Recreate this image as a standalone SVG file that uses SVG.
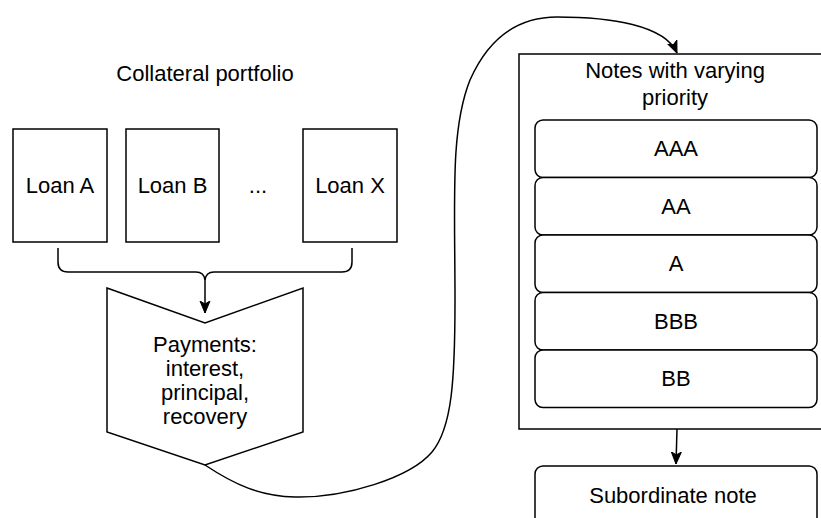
<svg xmlns="http://www.w3.org/2000/svg" width="821" height="518" viewBox="0 0 821 518">
<style>
  .box{fill:#fff;stroke:#000;stroke-width:1.5}
  .ln{fill:none;stroke:#000;stroke-width:1.5}
  text{font-family:"Liberation Sans",Arial,sans-serif;font-size:22px;fill:#000;text-anchor:middle}
</style>
<defs>
  <marker id="arr" viewBox="0 0 12 12" refX="12" refY="6" markerWidth="12" markerHeight="12" markerUnits="userSpaceOnUse" orient="auto">
    <path d="M0,1 L12,6 L0,11 L3,6 Z" fill="#000" stroke="#000" stroke-width="1"/>
  </marker>
</defs>
<rect width="821" height="518" fill="#fff"/>
<text id="title" x="205" y="81">Collateral portfolio</text>
<g id="loanA"><rect class="box" x="13" y="129" width="94" height="113"/><text x="60" y="193">Loan A</text></g>
<g id="loanB"><rect class="box" x="126" y="129" width="93" height="113"/><text x="172.5" y="193">Loan B</text></g>
<text id="dots" x="258" y="193">...</text>
<g id="loanX"><rect class="box" x="303" y="129" width="94" height="113"/><text x="350" y="193">Loan X</text></g>
<g id="payments">
  <path class="box" d="M107,288 L205,323 L303,288 L303,432 L205,465 L107,432 Z"/>
  <text x="205" y="352">Payments:</text>
  <text x="205" y="376">interest,</text>
  <text x="205" y="400">principal,</text>
  <text x="205" y="424">recovery</text>
</g>
<g id="notes">
  <rect class="box" x="519" y="54" width="312" height="375"/>
  <text x="675" y="78">Notes with varying</text>
  <text x="675" y="105">priority</text>
</g>
<g id="aaa"><rect class="box" x="535" y="120" width="282" height="57.5" rx="8"/><text x="676" y="156">AAA</text></g>
<g id="aa"><rect class="box" x="535" y="177.5" width="282" height="57.5" rx="8"/><text x="676" y="214">AA</text></g>
<g id="a"><rect class="box" x="535" y="235" width="282" height="57.5" rx="8"/><text x="676" y="271">A</text></g>
<g id="bbb"><rect class="box" x="535" y="292.5" width="282" height="57.5" rx="8"/><text x="676" y="329">BBB</text></g>
<g id="bb"><rect class="box" x="535" y="350" width="282" height="57.5" rx="8"/><text x="676" y="386">BB</text></g>
<g id="sub"><rect class="box" x="535" y="466" width="282" height="70" rx="8"/><text x="673" y="503">Subordinate note</text></g>
<g id="connectors">
  <path class="ln" d="M58,248 L58,262 Q58,272 68,272 L196,272 Q204,272 205,280 Q206,272 214,272 L342,272 Q352,272 352,262 L352,248"/>
  <path class="ln" d="M205,278 L205,313" marker-end="url(#arr)"/>
  <path class="ln" d="M677,429 L676,464" marker-end="url(#arr)"/>
  <path class="ln" d="M205,465 C235,485 260,496 295,497 C345,498 410,478 432,452 C452,428 455,380 455,300 C455,200 450,130 470,80 C490,35 520,17 557,17 C610,17 665,25 677,53" marker-end="url(#arr)"/>
</g>
</svg>
